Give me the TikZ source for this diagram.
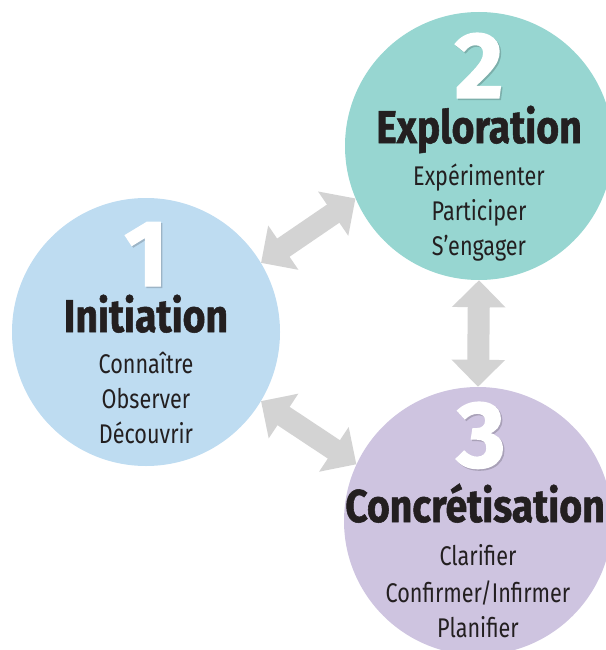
\documentclass[tikz,border=0pt]{standalone}
\usepackage{fontspec}
\setmainfont{Fira Sans}
\newfontfamily\condreg{Fira Sans}[FakeStretch=0.8]
\newfontfamily\condbold{Fira Sans}[FakeStretch=0.85,FakeBold=1.2]
\newfontfamily\digitfont{Fira Sans}[FakeBold=1.5]
\usetikzlibrary{arrows.meta}
\definecolor{cone}{HTML}{BEDCF1}
\definecolor{ctwo}{HTML}{97D6D1}
\definecolor{cthree}{HTML}{CEC4E0}
\definecolor{arrowgray}{HTML}{D3D3D3}
\definecolor{ink}{HTML}{231F20}
\newcommand\shdigit[2]{\makebox[0pt][l]{\kern1.5pt\raisebox{-1.5pt}{\textcolor{#1!82!black}{#2}}}#2}
\begin{document}
\begin{tikzpicture}[x=1pt,y=-1pt,
  phase/.style={circle,draw=none,minimum size=268pt,inner sep=0pt},
  digit/.style={anchor=base,inner sep=0pt,text=white,font=\digitfont\bfseries\fontsize{94}{94}\selectfont},
  title/.style={anchor=base,inner sep=0pt,text=ink,font=\condbold\bfseries\fontsize{46}{46}\selectfont},
  item/.style={anchor=base,inner sep=0pt,text=ink,font=\condreg\fontsize{27}{27}\selectfont},
  link/.style={draw=arrowgray,line width=22pt,{Triangle[length=27pt,width=52pt]}-{Triangle[length=27pt,width=52pt]}}
]
\useasboundingbox (0,0) rectangle (605,650);
% circles
\node[phase,fill=cone] (c1) at (146,332) {};
\node[phase,fill=ctwo] (c2) at (479,146) {};
\node[phase,fill=cthree] (c3) at (478,521) {};
% arrows
\draw[link] (c1.31) -- (c2.203);
\draw[link] (c1.-31) -- (c3.155.5);
\draw[link] (c2.270) -- (c3.90);
% circle 1 text
\node[digit] (n1) at (146,286) {\shdigit{cone}{1}};
\node[title] (t1) at (146,332) {Initiation};
\node[item] (a1) at (146,373) {Connaître};
\node[item] (b1) at (146,408) {Observer};
\node[item] (d1) at (146,443) {Découvrir};
% circle 2 text
\node[digit] (n2) at (479,98) {\shdigit{ctwo}{2}};
\node[title] (t2) at (479,143) {Exploration};
\node[item] (a2) at (479,185) {Expérimenter};
\node[item] (b2) at (479,220) {Participer};
\node[item] (d2) at (479,255) {S’engager};
% circle 3 text
\node[digit] (n3) at (481,467) {\shdigit{cthree}{3}};
\node[title] (t3) at (475,522) {Concrétisation};
\node[item] (a3) at (478,565) {Clarifier};
\node[item] (b3) at (478,602) {Confirmer/Infirmer};
\node[item] (d3) at (478,637) {Planifier};
\end{tikzpicture}
\end{document}
